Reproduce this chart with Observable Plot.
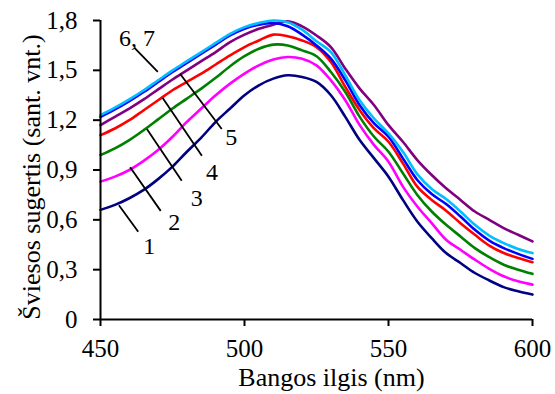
<!DOCTYPE html>
<html>
<head>
<meta charset="utf-8">
<script src="https://cdn.jsdelivr.net/npm/d3@7"></script>
<script src="https://cdn.jsdelivr.net/npm/@observablehq/plot@0.6"></script>
<style>
  html, body { margin: 0; padding: 0; background: #fff; }
  #chart svg { display: block; }
</style>
</head>
<body>
<div id="chart"></div>
<script>
const wavelengths = [450,455,460,465,470,475,480,485,490,495,500,505,510,515,520,525,530,535,540,545,550,555,560,565,570,575,580,585,590,595,600];

const s1 = [0.66,0.69,0.73,0.78,0.845,0.92,1.01,1.095,1.19,1.27,1.35,1.41,1.45,1.47,1.46,1.43,1.35,1.22,1.08,0.97,0.86,0.72,0.59,0.49,0.40,0.34,0.28,0.235,0.195,0.17,0.15];
const s2 = [0.83,0.86,0.90,0.955,1.02,1.10,1.19,1.27,1.35,1.42,1.48,1.53,1.565,1.58,1.57,1.53,1.44,1.32,1.17,1.05,0.95,0.80,0.68,0.58,0.48,0.42,0.36,0.305,0.26,0.23,0.21];
const s3 = [0.99,1.03,1.08,1.14,1.205,1.27,1.33,1.39,1.455,1.525,1.585,1.63,1.655,1.65,1.62,1.585,1.49,1.37,1.22,1.10,1.01,0.88,0.75,0.65,0.57,0.50,0.43,0.375,0.33,0.30,0.275];
const s4 = [1.11,1.15,1.20,1.26,1.32,1.38,1.43,1.48,1.535,1.59,1.64,1.68,1.715,1.705,1.68,1.64,1.55,1.40,1.26,1.15,1.07,0.94,0.80,0.72,0.655,0.58,0.51,0.445,0.40,0.37,0.345];
const s5 = [1.17,1.22,1.27,1.325,1.385,1.445,1.50,1.555,1.61,1.67,1.715,1.75,1.775,1.795,1.765,1.71,1.64,1.51,1.39,1.29,1.17,1.07,0.96,0.87,0.79,0.72,0.65,0.60,0.55,0.51,0.47];
const s6 = [1.22,1.265,1.315,1.37,1.43,1.49,1.545,1.60,1.655,1.71,1.75,1.775,1.785,1.765,1.715,1.65,1.57,1.44,1.29,1.18,1.10,0.97,0.84,0.755,0.695,0.62,0.54,0.475,0.43,0.395,0.365];
const s7 = [1.23,1.275,1.325,1.38,1.44,1.50,1.555,1.61,1.665,1.72,1.76,1.785,1.80,1.79,1.745,1.675,1.61,1.47,1.32,1.21,1.12,1.01,0.875,0.785,0.725,0.65,0.57,0.505,0.46,0.425,0.40];

const seriesNames = ["1","2","3","4","5","6","7"];
const seriesValues = [s1,s2,s3,s4,s5,s6,s7];
const seriesColors = ["#000080","#FF00FF","#008000","#FF0000","#800080","#0000FF","#00BFFF"];

const yTicks = [0,0.3,0.6,0.9,1.2,1.5,1.8];
const xTicks = [450,500,550,600];

// annotation leaders (data units) and their labels
const noteText = ["1","2","3","4","5","6, 7"];
const noteX1 = [456.4,460.3,466.1,471.6,477.6,461.8];
const noteY1 = [0.688,0.916,1.147,1.333,1.479,1.635];
const noteX2 = [463.1,470.9,478.2,485.2,492.1,469.9];
const noteY2 = [0.528,0.654,0.835,0.986,1.147,1.490];
const noteLX = [466.9,475.6,483.4,488.7,495.4,462.7];
const noteLY = [0.443,0.586,0.729,0.886,1.097,1.691];

const xTitle = "Bangos ilgis (nm)";
const yTitle = "Šviesos sugertis (sant. vnt.)";

const rows = [];
seriesValues.forEach((vals, i) => {
  vals.forEach((v, j) => rows.push({series: seriesNames[i], wl: wavelengths[j], v}));
});
const notes = noteText.map((t, i) => ({t, x1: noteX1[i], y1: noteY1[i], x2: noteX2[i], y2: noteY2[i], lx: noteLX[i], ly: noteLY[i]}));

const fmt = d => d === 0 ? "0" : d.toFixed(1).replace(".", ",");

const chart = Plot.plot({
  width: 555,
  height: 394,
  marginLeft: 100,
  marginRight: 23,
  marginTop: 20,
  marginBottom: 75,
  style: {fontFamily: "'Liberation Serif', 'Times New Roman', serif", fontSize: "25px", color: "#000", background: "#fff"},
  x: {domain: [450, 600]},
  y: {domain: [0, 1.8]},
  color: {domain: seriesNames, range: seriesColors},
  marks: [
    Plot.line(rows, {x: "wl", y: "v", z: "series", stroke: "series", strokeWidth: 2.6, curve: "catmull-rom"}),
    Plot.link(notes, {x1: "x1", y1: "y1", x2: "x2", y2: "y2", stroke: "#000", strokeWidth: 1.8}),
    Plot.text(notes, {x: "lx", y: "ly", text: "t", fontSize: 24, fill: "#000"}),
    Plot.axisX({ticks: xTicks, tickSize: 7, tickPadding: 13, tickFormat: d => String(d), label: null, strokeWidth: 2, fontSize: 25}),
    Plot.axisY({ticks: yTicks, tickSize: 7, tickPadding: 16, tickFormat: fmt, label: null, strokeWidth: 2, fontSize: 25}),
    Plot.ruleX([450], {stroke: "#000", strokeWidth: 2}),
    Plot.ruleY([0], {stroke: "#000", strokeWidth: 2}),
    Plot.text([xTitle], {frameAnchor: "bottom", textAnchor: "middle", dx: 15, dy: 66, fontSize: 26, fill: "#000"}),
    Plot.text([yTitle], {frameAnchor: "left", textAnchor: "middle", rotate: -90, dx: -69, dy: 7, fontSize: 26, fill: "#000"})
  ]
});
document.getElementById("chart").appendChild(chart);
</script>
</body>
</html>
